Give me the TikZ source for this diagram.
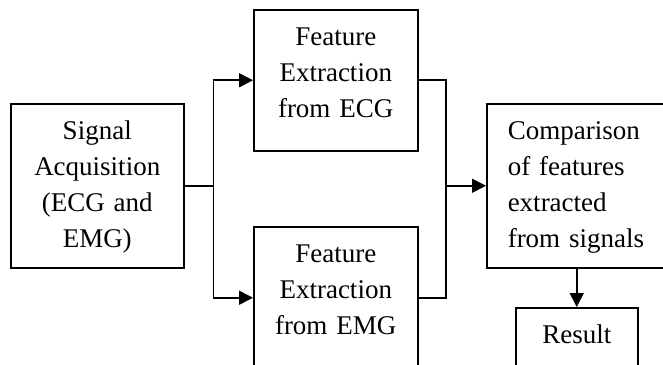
\documentclass[tikz,border=0pt]{standalone}
\usepackage{fontspec}
\setmainfont{Liberation Serif}
\usetikzlibrary{arrows.meta}

\begin{document}
\begin{tikzpicture}[x=1pt,y=-1pt,>={Triangle[length=14pt,width=14pt]},
    line width=1.5pt,
    blk/.style={draw,inner xsep=0pt,inner ysep=0pt,anchor=north west,
      font=\fontsize{27}{36}\selectfont,text height=36pt},
    conn/.style={line width=1.6pt}]

      \clip (0,0) rectangle (663,364);

      \node (sig) [blk,align=center,text width=173pt,text depth=128pt] at (10,103)
        {Signal\\Acquisition\\(ECG and\\EMG)};
      \node (ecg) [blk,align=center,text width=164pt,text depth=105pt] at (253,9)
        {Feature\\Extraction\\from ECG};
      \node (emg) [blk,align=center,text width=164pt,text depth=106pt] at (253,226)
        {Feature\\Extraction\\from EMG};
      \node (comp) [blk,align=left,inner xsep=21pt,text width=138pt,text depth=128pt] at (486,103)
        {Comparison\\of features\\extracted\\from signals};
      \node (res) [blk,align=center,text width=122pt,text depth=28pt] at (515,307)
        {Result};

      \coordinate (split) at ([xshift=29pt]sig.east);
      \coordinate (merge) at ([xshift=-40pt]comp.west);

      \draw[conn] (sig.east) -- (split);
      \draw[conn,->] (split) |- (ecg.west);
      \draw[conn,->] (split) |- (emg.west);
      \draw[conn] (ecg.east) -| (merge);
      \draw[conn] (emg.east) -| (merge);
      \draw[conn,->] (merge) -- (comp.west);
      \draw[conn,->] (comp.south -| res.north) -- (res.north);
    \end{tikzpicture}
\end{document}
